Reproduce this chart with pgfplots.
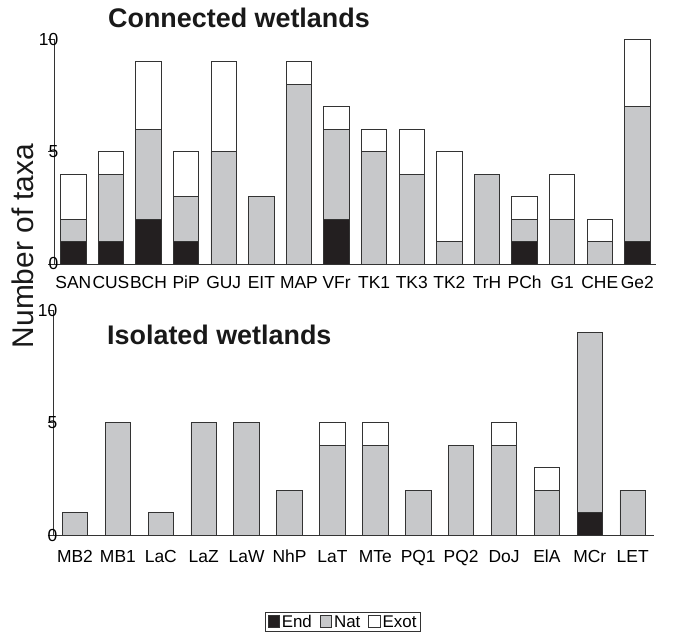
\documentclass[border=0pt]{standalone}
\usepackage{fontspec}
\setmainfont{Liberation Sans}
\usepackage{pgfplots}
\pgfplotsset{compat=1.18}
\definecolor{endc}{HTML}{231F20}
\definecolor{natc}{HTML}{C7C8CA}
\definecolor{edgec}{HTML}{333333}
\pgfplotsset{
  wet/.style={
    scale only axis,
    ybar stacked,
    bar width=25.5bp,
    ymin=0, ymax=10,
    ytick={0,5,10},
    axis x line*=bottom,
    axis y line*=left,
    axis line style={edgec, line width=0.9bp},
    tick align=outside,
    major tick length=6bp,
    minor tick length=6bp,
    tick style={edgec, line width=0.9bp},
    xtick style={draw=none},
    xtick=data,
    /pgf/number format/assume math mode=true,
    tick label style={font=\fontsize{17.5}{19}\selectfont},
    yticklabel style={anchor=east, inner sep=0pt, xshift=10bp},
    xticklabel style={anchor=base, inner sep=0pt},
    every axis plot/.append style={draw=edgec, line width=0.9bp},
    legend image code/.code={\draw[#1, line width=0.7bp] (0bp,-5bp) rectangle (11.5bp,6.5bp);},
  },
}
\begin{document}
\begin{tikzpicture}[x=1bp,y=1bp]
\useasboundingbox (0,0) rectangle (674,635);
% Connected wetlands
\begin{axis}[wet,
  at={(73.3bp,371bp)}, anchor=origin,
  width=601.7bp, height=224.7bp,
  xmin=-0.5, xmax=15.5,
  minor xtick={-0.5,0.5,...,15.5},
  xticklabels={SAN,CUS,BCH,PiP,GUJ,EIT,MAP,VFr,TK1,TK3,TK2,TrH,PCh,G1,CHE,Ge2},
  xticklabel style={yshift=-19bp},
]
\addplot[fill=endc] coordinates {(0,1)(1,1)(2,2)(3,1)(4,0)(5,0)(6,0)(7,2)(8,0)(9,0)(10,0)(11,0)(12,1)(13,0)(14,0)(15,1)};
\addplot[fill=natc] coordinates {(0,1)(1,3)(2,4)(3,2)(4,5)(5,3)(6,8)(7,4)(8,5)(9,4)(10,1)(11,4)(12,1)(13,2)(14,1)(15,6)};
\addplot[fill=white] coordinates {(0,2)(1,1)(2,3)(3,2)(4,4)(5,0)(6,1)(7,1)(8,1)(9,2)(10,4)(11,0)(12,1)(13,2)(14,1)(15,3)};
\end{axis}
% Isolated wetlands
\begin{axis}[wet,
  at={(75bp,100bp)}, anchor=origin,
  width=600.6bp, height=224.7bp,
  xmin=-0.5, xmax=13.5,
  minor xtick={-0.5,0.5,...,13.5},
  xticklabels={MB2,MB1,LaC,LaZ,LaW,NhP,LaT,MTe,PQ1,PQ2,DoJ,ElA,MCr,LET},
  xticklabel style={yshift=-22bp},
  legend columns=3,
  legend style={at={(0.482,-0.387)}, anchor=center, draw=edgec, line width=0.7bp,
    font=\fontsize{17}{19}\selectfont, inner xsep=2bp, inner ysep=1bp,
    /tikz/every even column/.append style={column sep=6bp}},
  legend cell align=left,
]
\addplot[fill=endc] coordinates {(0,0)(1,0)(2,0)(3,0)(4,0)(5,0)(6,0)(7,0)(8,0)(9,0)(10,0)(11,0)(12,1)(13,0)};
\addplot[fill=natc] coordinates {(0,1)(1,5)(2,1)(3,5)(4,5)(5,2)(6,4)(7,4)(8,2)(9,4)(10,4)(11,2)(12,8)(13,2)};
\addplot[fill=white] coordinates {(0,0)(1,0)(2,0)(3,0)(4,0)(5,0)(6,1)(7,1)(8,0)(9,0)(10,1)(11,1)(12,0)(13,0)};
\legend{End,Nat,Exot}
\end{axis}
\node[anchor=base west, inner sep=0pt, font=\fontsize{27}{31}\selectfont\bfseries, text=black!90] at (108,607) {Connected wetlands};
\node[anchor=base west, inner sep=0pt, font=\fontsize{27}{31}\selectfont\bfseries, text=black!90] at (107,290) {Isolated wetlands};
\node[anchor=base, rotate=90, inner sep=0pt, font=\fontsize{30}{34}\selectfont, text=black!90] at (33,389) {Number of taxa};
\end{tikzpicture}
\end{document}
